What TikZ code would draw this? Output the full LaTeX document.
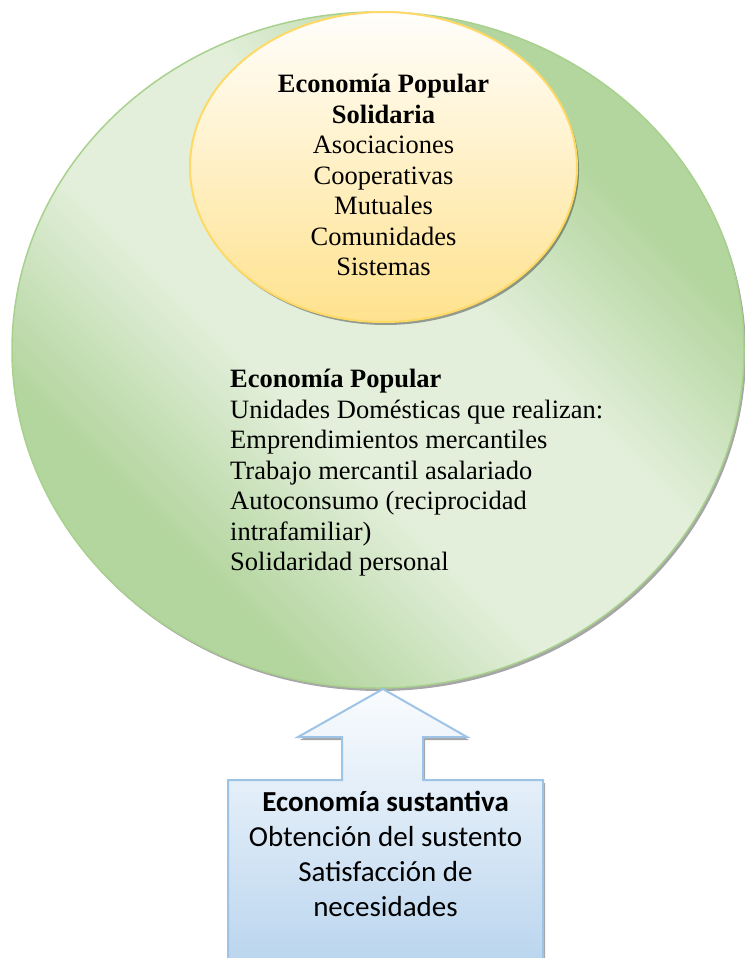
\documentclass[tikz,border=0pt]{standalone}
\usepackage{fontspec}
\setmainfont{Liberation Serif}
\newfontfamily\boxfont{Carlito}
\usetikzlibrary{shapes.geometric,shadows}

\definecolor{greenedge}{HTML}{A9D18E}
\definecolor{greendark}{HTML}{B3D59E}
\definecolor{greenlight}{HTML}{E3EFDB}
\definecolor{goldedge}{HTML}{FFD966}
\definecolor{goldtop}{HTML}{FFFEFC}
\definecolor{goldbottom}{HTML}{FFE28E}
\definecolor{blueedge}{HTML}{9DC3E6}
\definecolor{bluetop}{HTML}{FAFCFE}
\definecolor{bluebottom}{HTML}{BAD5EE}

% green fill: dark in two opposite corners, soft light band between them
\pgfdeclarehorizontalshading{greenband}{100bp}{%
  color(0bp)=(greendark); color(30bp)=(greendark);
  color(43bp)=(greenlight); color(57bp)=(greenlight);
  color(70bp)=(greendark); color(100bp)=(greendark)}

\tikzset{
  softshadow/.style={drop shadow={shadow xshift=2pt, shadow yshift=-3pt, fill=black, opacity=0.35}},
  outerset/.style={ellipse, inner sep=0pt, minimum width=732pt, minimum height=676pt,
    draw=greenedge, line width=1.5pt, softshadow,
    shading=greenband, shading angle=45},
  innerset/.style={ellipse, inner sep=0pt, minimum width=387pt, minimum height=310pt,
    draw=goldedge, line width=2pt, softshadow,
    top color=goldtop, bottom color=goldbottom},
  callout/.style={draw=blueedge, line width=2pt, line join=miter, softshadow,
    top color=bluetop, bottom color=bluebottom},
  serifblock/.style={font=\fontsize{26.5}{30.5}\selectfont, inner sep=0pt},
  sansblock/.style={font=\boxfont\fontsize{29}{35}\selectfont, inner sep=0pt, align=center}
}

\begin{document}
\begin{tikzpicture}[x=1pt,y=1pt]
\useasboundingbox (0,0) rectangle (744,-958);

% outer set: Economía Popular
\node[outerset] (popular) at (378,-350) {};
% inner set: Economía Popular Solidaria
\node[innerset] (solidaria) at (383.5,-167) {};

\node[serifblock, align=center, anchor=north] (solidariatext) at (383.5,-74)
  {\textbf{Economía Popular}\\\textbf{Solidaria}\\Asociaciones\\Cooperativas\\Mutuales\\Comunidades\\Sistemas};

\node[serifblock, align=left, anchor=north west] (populartext) at (230,-369)
  {\textbf{Economía Popular}\\Unidades Domésticas que realizan:\\Emprendimientos mercantiles\\Trabajo mercantil asalariado\\Autoconsumo (reciprocidad\\intrafamiliar)\\Solidaridad personal};

% up-arrow callout: Economía sustantiva
\coordinate (tip) at (383,-689);
\path[callout] (228,-964) -- (228,-780) -- (342,-780) -- (342,-737) -- (298,-737)
  -- (tip) -- (467,-737) -- (423,-737) -- (423,-780) -- (543,-780) -- (543,-964) -- cycle;

\node[sansblock, anchor=north] (sustantiva) at (385.5,-791)
  {\textbf{Economía sustantiva}\\Obtención del sustento\\Satisfacción de\\necesidades};
\end{tikzpicture}
\end{document}
